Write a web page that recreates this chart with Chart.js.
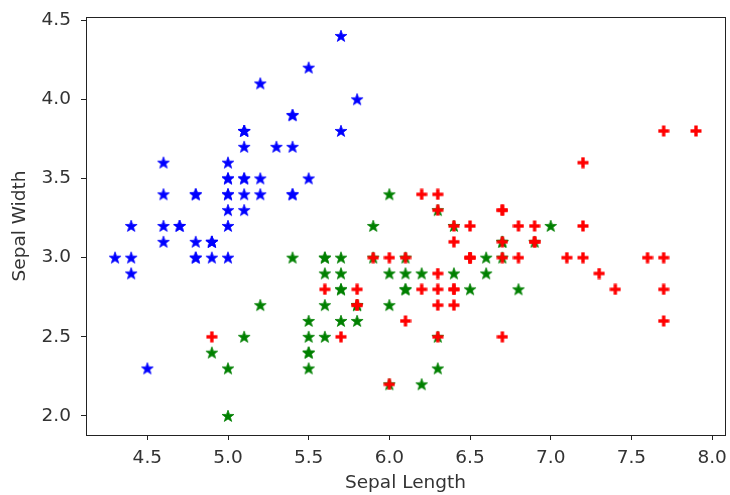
<!DOCTYPE html>
<html>
<head>
<meta charset="utf-8">
<script src="https://cdn.jsdelivr.net/npm/chart.js@4/dist/chart.umd.min.js"></script>
<style>
  body { margin: 0; background: #fff; }
  #wrap { width: 730px; height: 495px; }
</style>
</head>
<body>
<div id="wrap"><canvas id="irisChart" width="730" height="495"></canvas></div>
<script>
// Iris data: sepal length / sepal width per species
const setosaLength = [5.1,4.9,4.7,4.6,5.0,5.4,4.6,5.0,4.4,4.9,5.4,4.8,4.8,4.3,5.8,5.7,5.4,5.1,5.7,5.1,5.4,5.1,4.6,5.1,4.8,5.0,5.0,5.2,5.2,4.7,4.8,5.4,5.2,5.5,4.9,5.0,5.5,4.9,4.4,5.1,5.0,4.5,4.4,5.0,5.1,4.8,5.1,4.6,5.3,5.0];
const setosaWidth  = [3.5,3.0,3.2,3.1,3.6,3.9,3.4,3.4,2.9,3.1,3.7,3.4,3.0,3.0,4.0,4.4,3.9,3.5,3.8,3.8,3.4,3.7,3.6,3.3,3.4,3.0,3.4,3.5,3.4,3.2,3.1,3.4,4.1,4.2,3.1,3.2,3.5,3.1,3.0,3.4,3.5,2.3,3.2,3.5,3.8,3.0,3.8,3.2,3.7,3.3];

const versicolorLength = [7.0,6.4,6.9,5.5,6.5,5.7,6.3,4.9,6.6,5.2,5.0,5.9,6.0,6.1,5.6,6.7,5.6,5.8,6.2,5.6,5.9,6.1,6.3,6.1,6.4,6.6,6.8,6.7,6.0,5.7,5.5,5.5,5.8,6.0,5.4,6.0,6.7,6.3,5.6,5.5,5.5,6.1,5.8,5.0,5.6,5.7,5.7,6.2,5.1,5.7];
const versicolorWidth  = [3.2,3.2,3.1,2.3,2.8,2.8,3.3,2.4,2.9,2.7,2.0,3.0,2.2,2.9,2.9,3.1,3.0,2.7,2.2,2.5,3.2,2.8,2.5,2.8,2.9,3.0,2.8,3.0,2.9,2.6,2.4,2.4,2.7,2.7,3.0,3.4,3.1,2.3,3.0,2.5,2.6,3.0,2.6,2.3,2.7,3.0,2.9,2.9,2.5,2.8];

const virginicaLength = [6.3,5.8,7.1,6.3,6.5,7.6,4.9,7.3,6.7,7.2,6.5,6.4,6.8,5.7,5.8,6.4,6.5,7.7,7.7,6.0,6.9,5.6,7.7,6.3,6.7,7.2,6.2,6.1,6.4,7.2,7.4,7.9,6.4,6.3,6.1,7.7,6.3,6.4,6.0,6.9,6.7,6.9,5.8,6.8,6.7,6.7,6.3,6.5,6.2,5.9];
const virginicaWidth  = [3.3,2.7,3.0,2.9,3.0,3.0,2.5,2.9,2.5,3.6,3.2,2.7,3.0,2.5,2.8,3.2,3.0,3.8,2.6,2.2,3.2,2.8,2.8,2.7,3.3,3.2,2.8,3.0,2.8,3.0,2.8,3.8,2.8,2.8,2.6,3.0,3.4,3.1,3.0,3.1,3.1,3.1,2.7,3.2,3.3,3.0,2.5,3.0,3.4,3.0];

const xTickLabels = [4.5, 5.0, 5.5, 6.0, 6.5, 7.0, 7.5, 8.0];
const yTickLabels = [2.0, 2.5, 3.0, 3.5, 4.0, 4.5];

function toPoints(xs, ys) {
    return xs.map((x, i) => ({ x: x, y: ys[i] }));
}

// filled five point star, like matplotlib '*'
function starMarker(color) {
    const size = 14;
    const c = document.createElement("canvas");
    c.width = size; c.height = size;
    const ctx = c.getContext("2d");
    const outer = 6.2, inner = 2.5;
    ctx.beginPath();
    for (let i = 0; i < 10; i++) {
        const r = i % 2 === 0 ? outer : inner;
        const a = -Math.PI / 2 + i * Math.PI / 5;
        const px = size / 2 + r * Math.cos(a);
        const py = size / 2 + 0.4 + r * Math.sin(a);
        if (i === 0) ctx.moveTo(px, py); else ctx.lineTo(px, py);
    }
    ctx.closePath();
    ctx.fillStyle = color;
    ctx.fill();
    ctx.lineWidth = 0.8;
    ctx.strokeStyle = color;
    ctx.stroke();
    return c;
}

// thick plus
function plusMarker(color) {
    const size = 12;
    const c = document.createElement("canvas");
    c.width = size; c.height = size;
    const ctx = c.getContext("2d");
    ctx.fillStyle = color;
    const arm = 3.4, len = 11;
    ctx.fillRect((size - arm) / 2, (size - len) / 2, arm, len);
    ctx.fillRect((size - len) / 2, (size - arm) / 2, len, arm);
    return c;
}

// top/right spines
const frameBox = {
    id: "frameBox",
    afterDatasetsDraw(chart) {
        const a = chart.chartArea;
        const ctx = chart.ctx;
        ctx.save();
        ctx.strokeStyle = "#222";
        ctx.lineWidth = 1;
        ctx.strokeRect(Math.round(a.left) + 0.5, Math.round(a.top) + 0.5,
            Math.round(a.right - a.left), Math.round(a.bottom - a.top));
        ctx.restore();
    }
};

const font = { family: "DejaVu Sans", size: 18.5 };

new Chart(document.getElementById("irisChart"), {
    type: "scatter",
    data: {
        datasets: [
            { label: "setosa", data: toPoints(setosaLength, setosaWidth), pointStyle: starMarker("#0000ff"), order: 3 },
            { label: "versicolor", data: toPoints(versicolorLength, versicolorWidth), pointStyle: starMarker("#008000"), order: 2 },
            { label: "virginica", data: toPoints(virginicaLength, virginicaWidth), pointStyle: plusMarker("#ff0000"), order: 1 }
        ]
    },
    options: {
        responsive: false,
        devicePixelRatio: 1,
        animation: false,
        layout: { padding: { top: 17, right: 2, left: 0, bottom: 0 } },
        plugins: { legend: { display: false }, tooltip: { enabled: false } },
        scales: {
            x: {
                min: 4.12, max: 8.08,
                afterBuildTicks: s => { s.ticks = xTickLabels.map(v => ({ value: v })); },
                afterFit: s => { s.height = 60; s.paddingLeft = 0; s.paddingRight = 0; },
                ticks: { font: font, color: "#333", padding: 7, maxRotation: 0, callback: v => v.toFixed(1) },
                grid: { drawOnChartArea: false, drawTicks: true, tickLength: 5, color: "#222" },
                border: { display: true, color: "#222", width: 1 },
                title: { display: true, text: "Sepal Length", font: font, color: "#333", padding: { top: 2, bottom: 1 } }
            },
            y: {
                min: 1.88, max: 4.52,
                afterBuildTicks: s => { s.ticks = yTickLabels.map(v => ({ value: v })); },
                afterFit: s => { s.width = 86; s.paddingTop = 0; s.paddingBottom = 0; },
                ticks: { font: font, color: "#333", padding: 10, callback: v => v.toFixed(1) },
                grid: { drawOnChartArea: false, drawTicks: true, tickLength: 5, color: "#222" },
                border: { display: true, color: "#222", width: 1 },
                title: { display: true, text: "Sepal Width", font: font, color: "#333", padding: { top: 9, bottom: 4 } }
            }
        }
    },
    plugins: [frameBox]
});
</script>
</body>
</html>
